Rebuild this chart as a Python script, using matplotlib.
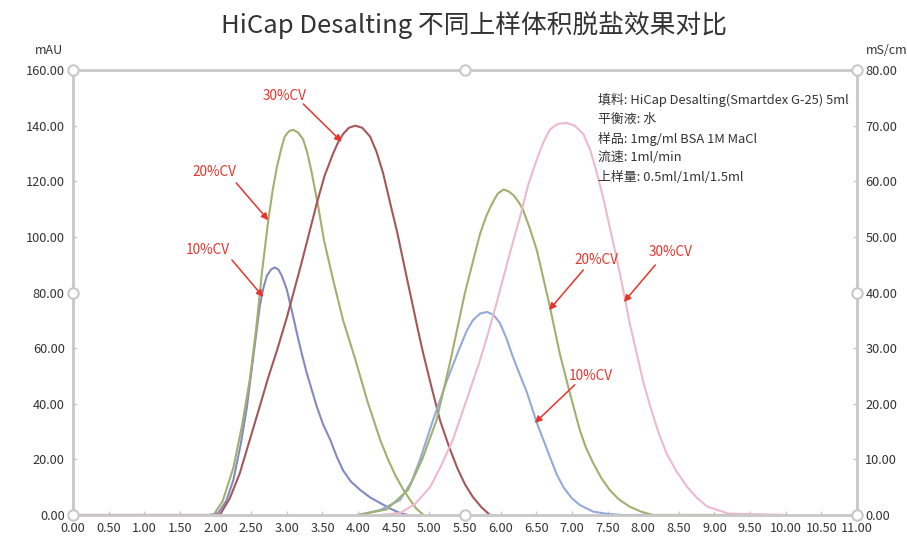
import matplotlib
matplotlib.use("Agg")
import matplotlib.pyplot as plt

plt.rcParams['font.family'] = ['Noto Sans CJK SC', 'DejaVu Sans']

# ---------------- data ----------------
title = "HiCap Desalting 不同上样体积脱盐效果对比"
x_ticks = [0, 0.5, 1, 1.5, 2, 2.5, 3, 3.5, 4, 4.5, 5, 5.5, 6, 6.5, 7, 7.5, 8, 8.5, 9, 9.5, 10, 10.5, 11]
left_ticks = [0, 20, 40, 60, 80, 100, 120, 140, 160]
right_ticks = [0, 10, 20, 30, 40, 50, 60, 70, 80]

# UV peaks (mAU, left axis)
uv10_x = [0, 1.9, 2.03, 2.15, 2.25, 2.35, 2.44, 2.53, 2.62, 2.67, 2.72, 2.78, 2.83, 2.88, 2.92, 2.96, 3.0, 3.07, 3.14, 3.21, 3.28, 3.35, 3.42, 3.51, 3.61, 3.7, 3.79, 3.9, 4.03, 4.17, 4.31, 4.45, 4.59, 4.7]
uv10_y = [0, 0, 0.5, 5, 12.6, 25, 38.8, 57, 75, 81.5, 86, 88.3, 89, 88.3, 86.5, 84, 81, 73.5, 65.5, 58, 51, 45, 39, 32.5, 27, 21, 16, 12, 9, 6.3, 4.3, 2.3, 0.7, 0]

uv20_x = [0, 1.97, 2.1, 2.25, 2.37, 2.48, 2.57, 2.65, 2.74, 2.8, 2.86, 2.92, 2.97, 3.03, 3.09, 3.16, 3.23, 3.29, 3.35, 3.44, 3.52, 3.65, 3.79, 3.96, 4.13, 4.31, 4.42, 4.52, 4.63, 4.73, 4.82, 4.92]
uv20_y = [0, 0, 5, 17, 32, 48.6, 67, 87, 106, 116.5, 125, 131.5, 136, 138, 138.5, 137.5, 135, 130, 123, 111, 99, 84.5, 70, 56, 41, 27, 20, 14.4, 9.3, 5.4, 2.2, 0]

uv30_x = [0, 2.06, 2.2, 2.34, 2.48, 2.62, 2.74, 2.86, 3.0, 3.1, 3.2, 3.3, 3.42, 3.53, 3.65, 3.72, 3.79, 3.87, 3.96, 4.06, 4.17, 4.26, 4.35, 4.47, 4.55, 4.62, 4.69, 4.77, 4.84, 4.91, 5.03, 5.15, 5.27, 5.39, 5.5, 5.61, 5.73, 5.85]
uv30_y = [0, 0, 6, 15, 27, 39, 49.5, 59, 71, 80.5, 90, 100, 112, 122, 130, 134, 137, 139.2, 140, 139.2, 136, 130.5, 123, 110, 101.5, 93, 84.5, 75, 66.5, 58.5, 46, 34, 25, 17, 11, 6.5, 2.8, 0]

# Conductivity peaks (mS/cm, right axis)
cd10_x = [4.0, 4.31, 4.59, 4.75, 4.87, 5.05, 5.25, 5.43, 5.52, 5.61, 5.71, 5.81, 5.9, 5.99, 6.08, 6.17, 6.27, 6.37, 6.51, 6.69, 6.78, 6.88, 7.0, 7.11, 7.3, 7.5, 7.7, 10]
cd10_y = [0, 0.9, 2.7, 6, 10, 17, 24.3, 30.2, 33, 35, 36.2, 36.5, 36, 34.5, 31.8, 28.5, 25.2, 22, 16.5, 10.5, 7.5, 5, 3, 1.8, 0.6, 0.2, 0, 0]

cd20_x = [4.0, 4.4, 4.7, 4.9, 5.1, 5.3, 5.5, 5.61, 5.71, 5.8, 5.88, 5.96, 6.04, 6.11, 6.18, 6.25, 6.31, 6.41, 6.51, 6.6, 6.69, 6.83, 6.97, 7.11, 7.20, 7.30, 7.41, 7.53, 7.66, 7.81, 7.97, 8.14, 10]
cd20_y = [0, 1, 4.5, 10, 17, 28, 40, 45.5, 50.5, 53.8, 56, 57.8, 58.5, 58.2, 57.5, 56.3, 55, 51.5, 47.5, 42.5, 37.5, 29, 22, 15.3, 12, 9.3, 6.7, 4.5, 2.8, 1.5, 0.6, 0, 0]

cd30_x = [4.3, 4.59, 4.8, 5.01, 5.17, 5.33, 5.45, 5.57, 5.69, 5.81, 5.92, 6.03, 6.15, 6.27, 6.39, 6.51, 6.6, 6.69, 6.8, 6.92, 7.04, 7.16, 7.26, 7.35, 7.44, 7.53, 7.63, 7.72, 7.81, 7.91, 8.0, 8.10, 8.21, 8.33, 8.47, 8.62, 8.76, 8.90, 9.2, 10]
cd30_y = [0, 0.35, 2, 5, 9, 13.5, 18, 22.5, 27, 32, 37, 42.3, 48, 53.5, 59.5, 64, 67, 69.3, 70.3, 70.5, 70, 68.5, 65.5, 61.5, 57, 51.8, 46, 40.5, 34.5, 29, 24, 19.5, 15, 11, 7.8, 5, 3, 1.5, 0.25, 0]

info_lines = ["填料: HiCap Desalting(Smartdex G-25) 5ml",
              "平衡液: 水",
              "样品: 1mg/ml BSA 1M MaCl",
              "流速: 1ml/min",
              "上样量: 0.5ml/1ml/1.5ml"]

# ---------------- figure ----------------
fig = plt.figure(figsize=(9.07, 5.40), dpi=100)
ax = fig.add_axes([73/907, 25/540, 784/907, 445/540])
ax2 = ax.twinx()

spine_c = '#c9c9c9'
txt_c = '#333333'

c_blue1 = '#8389c2'
c_green = '#a2b06f'
c_brown = '#a5575a'
c_blue2 = '#93abd9'
c_pink = '#ecbac9'

lw = 1.5
ax.plot(uv10_x, uv10_y, color=c_blue1, lw=lw, solid_joinstyle='round')
ax.plot(uv20_x, uv20_y, color=c_green, lw=lw, solid_joinstyle='round')
ax.plot(uv30_x, uv30_y, color=c_brown, lw=lw, solid_joinstyle='round')
ax2.plot(cd10_x, cd10_y, color=c_blue2, lw=lw, solid_joinstyle='round')
ax2.plot(cd20_x, cd20_y, color=c_green, lw=lw, solid_joinstyle='round')
ax2.plot(cd30_x, cd30_y, color=c_pink, lw=lw, solid_joinstyle='round')

ax.set_xlim(0, 11)
ax.set_ylim(0, 160)
ax2.set_ylim(0, 80)

ax.set_xticks(x_ticks)
ax.set_xticklabels([f"{v:.2f}" for v in x_ticks])
ax.set_yticks(left_ticks)
ax.set_yticklabels([f"{v:.2f}" for v in left_ticks])
ax2.set_yticks(right_ticks)
ax2.set_yticklabels([f"{v:.2f}" for v in right_ticks])

for a in (ax, ax2):
    for s in a.spines.values():
        s.set_color(spine_c)
        s.set_linewidth(1.8)
    a.tick_params(colors=spine_c, labelcolor=txt_c, labelsize=9.2, direction='in', length=3, width=1)
ax.tick_params(axis='x', pad=5)
ax.tick_params(axis='y', pad=6)
ax2.tick_params(axis='y', pad=6)

# handles on the frame
hx = [0, 0.5, 1, 0, 1, 0, 0.5, 1]
hy = [1, 1, 1, 0.5, 0.5, 0, 0, 0]
ax2.plot(hx, hy, 'o', transform=ax2.transAxes, clip_on=False, ms=7.5,
         mfc='white', mec=spine_c, mew=1.5, zorder=10)

# titles and units
fig.text(474/907, 1 - 25/540, title, ha='center', va='center', fontsize=18.5,
         fontweight='light', color=txt_c)
fig.text(63/907, 1 - 50/540, "mAU", ha='right', va='center', fontsize=9, color=txt_c)
fig.text(866/907, 1 - 50/540, "mS/cm", ha='left', va='center', fontsize=9, color=txt_c)

# info box
for i, line in enumerate(info_lines):
    fig.text(598/907, 1 - (100 + i * 19.3)/540, line, ha='left', va='center', fontsize=9.3, color=txt_c)

# annotations (positions in left-axis data units)
red = '#e8342c'
ann = [("30%CV", (2.97, 150.7), (3.23, 147.8), (3.77, 134.2)),
       ("20%CV", (1.99, 123.4), (2.29, 119.4), (2.74, 106.0)),
       ("10%CV", (1.89, 95.3), (2.23, 91.7), (2.67, 78.4)),
       ("20%CV", (7.35, 91.7), (7.16, 88.1), (6.68, 73.7)),
       ("30%CV", (8.39, 94.6), (8.17, 89.9), (7.73, 76.6)),
       ("10%CV", (7.27, 50.0), (7.04, 46.8), (6.48, 33.1))]
for label, lp, tail, tip in ann:
    ax2.text(lp[0], lp[1] / 2, label, ha='center', va='center', fontsize=9.8, color=red, zorder=12)
    ax2.annotate("", xy=(tip[0], tip[1] / 2), xytext=(tail[0], tail[1] / 2),
                 arrowprops=dict(arrowstyle='-|>', color=red, lw=1.1,
                                 mutation_scale=10, shrinkA=0, shrinkB=0), zorder=12)

fig.savefig("out.png", dpi=100)
